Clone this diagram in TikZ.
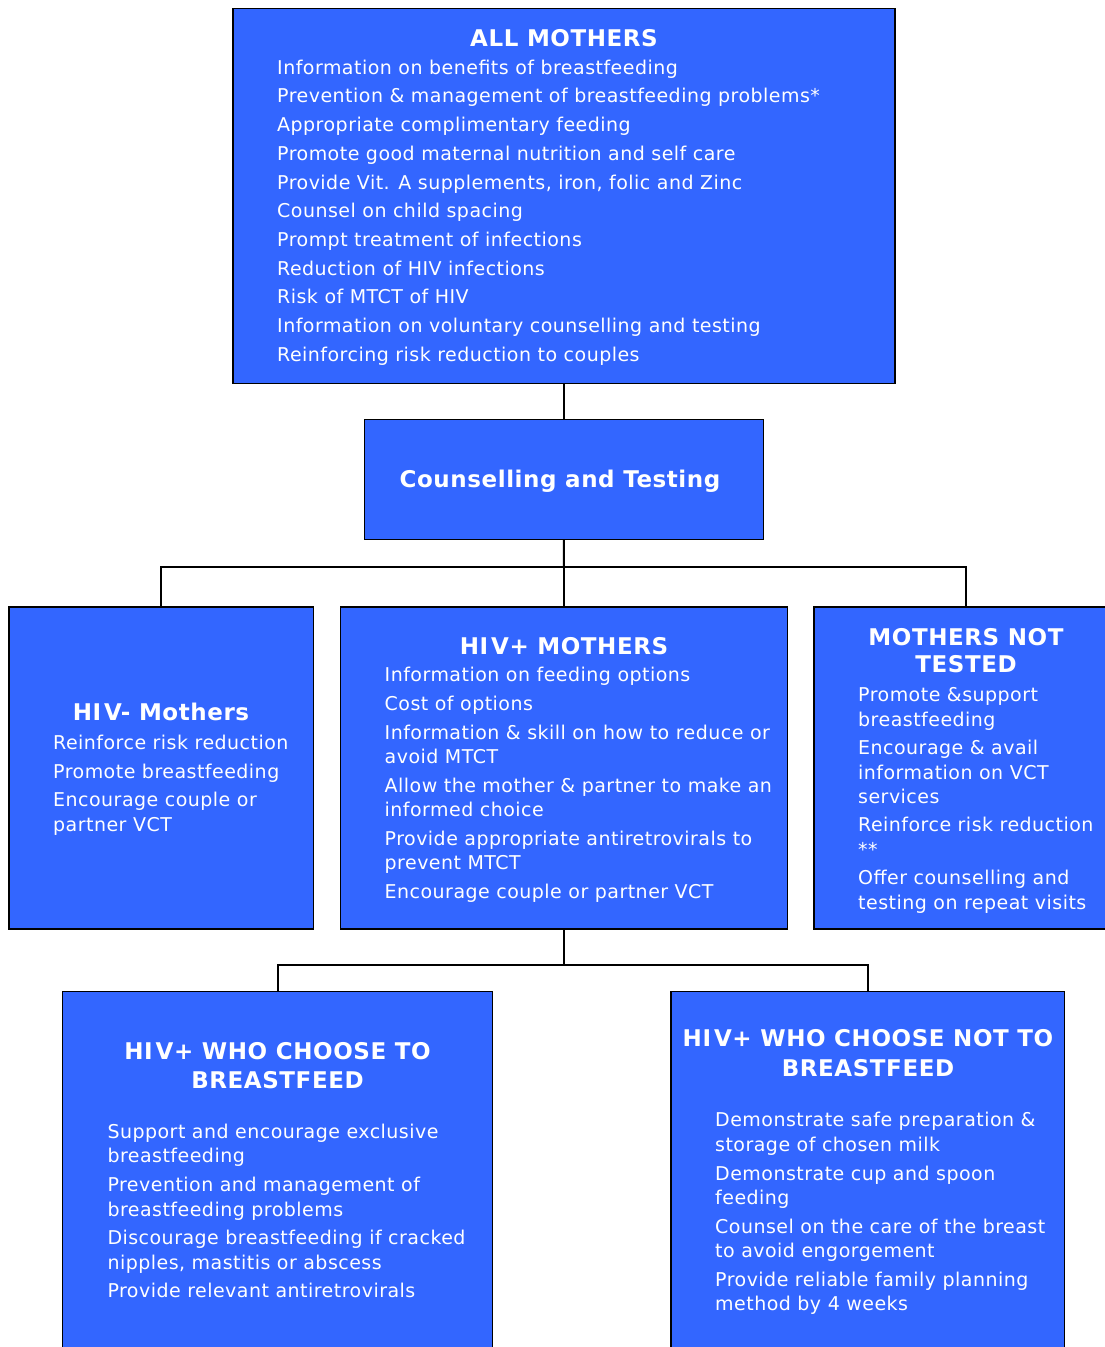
\documentclass[tikz,border=0pt]{standalone}
\usepackage{fontspec}
\setmainfont{DejaVu Sans}
\newfontfamily\bodyfont{DejaVu Sans}[LetterSpace=2.5]
\newfontfamily\headfont{DejaVu Sans}[LetterSpace=2.5]
\definecolor{boxblue}{RGB}{51,102,255}
\newcommand\firstln{\rule{0pt}{16pt}}
\newcommand\headln{\rule{0pt}{18pt}}
\tikzset{
  box/.style={draw=black, line width=1.1pt, fill=boxblue, inner sep=0pt, outer sep=0pt, anchor=north west},
  body/.style={text=white, inner sep=0pt, anchor=north west, align=left, font=\bodyfont\fontsize{19}{24.4}\selectfont},
  head/.style={text=white, inner sep=0pt, align=center, font=\headfont\bfseries\fontsize{23}{29}\selectfont},
  link/.style={draw=black, line width=2pt},
}
\begin{document}
\begin{tikzpicture}[x=1pt,y=-1pt]
\clip (0,0) rectangle (1105,1347);
\fill[white] (0,0) rectangle (1105,1347);
% boxes
\node[box, minimum width=662pt, minimum height=375pt] (all) at (233,8.3) {};
\node[box, minimum width=399pt, minimum height=120pt] (ct) at (364.3,419.3) {};
\node[box, minimum width=304.5pt, minimum height=322pt] (neg) at (9,607) {};
\node[box, minimum width=447pt, minimum height=322pt] (pos) at (340.5,607) {};
\node[box, minimum width=304pt, minimum height=322pt] (nt) at (814,607) {};
\node[box, minimum width=429.6pt, minimum height=400pt] (bf) at (62.7,991.7) {};
\node[box, minimum width=393.3pt, minimum height=400pt] (nbf) at (671,991.7) {};
% connectors
\coordinate (j1) at (564,566.7);
\coordinate (j2) at (564,965);
\draw[link] (all.south) -- (all.south |- ct.north);
\draw[link] (ct.south) -- (j1);
\draw[link] (neg.north) |- (j1) -| (nt.north);
\draw[link] (j1) -- (pos.north);
\draw[link] (pos.south) -- (j2);
\draw[link] (bf.north) |- (j2) -| (nbf.north);
% texts
\node[head, anchor=base] (tall) at (564,46) {ALL MOTHERS};
\node[body] (ball) at (277,58) {\firstln Information on benefits of breastfeeding\\[4.3pt]
Prevention \& management of breastfeeding problems*\\[4.3pt]
Appropriate complimentary feeding\\[4.3pt]
Promote good maternal nutrition and self care\\[4.3pt]
Provide Vit. A supplements, iron, folic and Zinc\\[4.3pt]
Counsel on child spacing\\[4.3pt]
Prompt treatment of infections\\[4.3pt]
Reduction of HIV infections\\[4.3pt]
Risk of MTCT of HIV\\[4.3pt]
Information on voluntary counselling and testing\\[4.3pt]
Reinforcing risk reduction to couples};
\node[head, anchor=base] (tct) at (560,487.3) {Counselling and Testing};
\node[head, anchor=base] (tneg) at (161,720.7) {HI\kern3pt V- Mothers};
\node[body] (bneg) at (53,733.3) {\firstln Reinforce risk reduction\\[4.3pt]
Promote breastfeeding\\[4.3pt]
Encourage couple or\\
partner VCT};
\node[head, anchor=base] (tpos) at (564,654) {HI\kern3pt V+ MOTHERS};
\node[body] (bpos) at (384.5,665.7) {\firstln Information on feeding options\\[4.3pt]
Cost of options\\[4.3pt]
Information \& skill on how to reduce or\\
avoid MTCT\\[4.3pt]
Allow the mother \& partner to make an\\
informed choice\\[4.3pt]
Provide appropriate antiretrovirals to\\
prevent MTCT\\[4.3pt]
Encourage couple or partner VCT};
\node[head, anchor=north, font=\headfont\bfseries\fontsize{23}{27.7}\selectfont] (tnt) at (966,627) {\headln MOTHERS NOT\\TESTED};
\node[body] (bnt) at (858,685.7) {\firstln Promote \&support\\
breastfeeding\\[4pt]
Encourage \& avail\\
information on VCT\\
services\\[4pt]
Reinforce risk reduction\\
**\\[4pt]
Offer counselling and\\
testing on repeat visits};
\node[head, anchor=north] (tbf) at (277.5,1041.3) {\headln HI\kern3pt V+ WHO CHOOSE TO\\BREASTFEED};
\node[body] (bbf) at (107.3,1122.3) {\firstln Support and encourage exclusive\\
breastfeeding\\[4.3pt]
Prevention and management of\\
breastfeeding problems\\[4.3pt]
Discourage breastfeeding if cracked\\
nipples, mastitis or abscess\\[4.3pt]
Provide relevant antiretrovirals};
\node[head, anchor=north, font=\headfont\bfseries\fontsize{23}{30}\selectfont] (tnbf) at (868,1028.7) {\headln HI\kern3pt V+ WHO CHOOSE NOT TO\\BREASTFEED};
\node[body] (bnbf) at (715,1110.7) {\firstln Demonstrate safe preparation \&\\
storage of chosen milk\\[4.3pt]
Demonstrate cup and spoon\\
feeding\\[4.3pt]
Counsel on the care of the breast\\
to avoid engorgement\\[4.3pt]
Provide reliable family planning\\
method by 4 weeks};
\end{tikzpicture}
\end{document}
